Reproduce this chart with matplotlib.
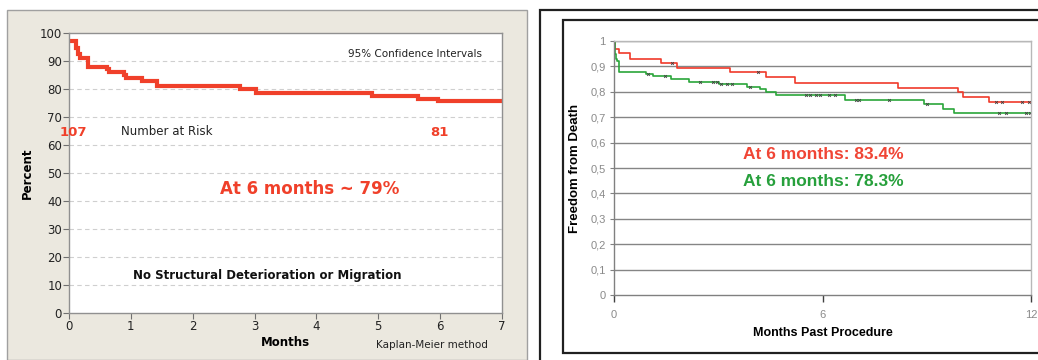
import matplotlib
matplotlib.use("Agg")
import matplotlib.pyplot as plt
from matplotlib.patches import Rectangle
from matplotlib.ticker import FuncFormatter

# ============================
# Data
# ============================
# left panel: Kaplan-Meier, no structural deterioration or migration
left_months = [0, 0.12, 0.14, 0.17, 0.30, 0.61, 0.64, 0.89, 0.92, 1.18, 1.42, 2.76, 3.03, 4.90, 5.65, 5.96, 7.0]
left_percent = [97.3, 94.5, 92.5, 91.0, 88.0, 87.0, 86.0, 85.0, 84.0, 83.0, 81.2, 80.1, 78.6, 77.5, 76.5, 75.8, 75.8]
left_yticks = list(range(0, 101, 10))
left_xticks = list(range(0, 8))
risk_start, risk_end = "107", "81"

# right panel: freedom from death, two groups
red_months = [0, 0.04, 0.15, 0.46, 1.34, 1.82, 3.35, 4.38, 5.20, 8.16, 9.89, 10.03, 10.80, 12.0]
red_surv = [1.0, 0.967, 0.951, 0.929, 0.912, 0.892, 0.877, 0.857, 0.836, 0.816, 0.80, 0.778, 0.761, 0.761]
green_months = [0, 0.02, 0.05, 0.10, 0.15, 0.92, 1.13, 1.64, 2.16, 3.03, 3.84, 4.19, 4.37, 4.67, 6.66, 8.93, 9.46, 9.79, 12.0]
green_surv = [1.0, 0.95, 0.93, 0.92, 0.879, 0.872, 0.861, 0.850, 0.840, 0.830, 0.818, 0.810, 0.800, 0.786, 0.769, 0.751, 0.734, 0.715, 0.715]
red_censor = [1.66, 4.14, 10.99, 11.17, 11.75, 11.95]
green_censor = [0.98, 1.46, 2.47, 2.84, 2.95, 3.09, 3.25, 3.40, 3.90, 5.53, 5.65, 5.80, 5.92, 6.20, 6.35, 6.97, 7.06, 7.92, 9.02, 11.08, 11.27, 11.85, 11.97]
right_yticks = [i / 10 for i in range(0, 11)]
right_xticks = [0, 6, 12]

W, H = 1038, 360


def box(x0, y0, x1, y1):
    # pixel box (top-left origin) -> figure fraction rect
    return [x0 / W, (H - y1) / H, (x1 - x0) / W, (y1 - y0) / H]


def step_value(t, months, surv):
    val = surv[0]
    for m, s in zip(months, surv):
        if m <= t:
            val = s
    return val


fig = plt.figure(figsize=(W / 100, H / 100), dpi=100)
fig.patch.set_facecolor("white")

# panel backgrounds
fig.patches.append(Rectangle((7 / W, 0), (527 - 7) / W, (H - 10) / H, transform=fig.transFigure,
                             facecolor="#ebe8df", edgecolor="#a0a0a0", lw=1.0, zorder=-2))
fig.patches.append(Rectangle((540 / W, -0.01), 0.6, (H - 10) / H + 0.01, transform=fig.transFigure,
                             facecolor="white", edgecolor="#202020", lw=1.6, zorder=-2))
fig.patches.append(Rectangle((563 / W, (H - 353) / H), 0.6, (353 - 20) / H, transform=fig.transFigure,
                             facecolor="white", edgecolor="#202020", lw=1.6, zorder=-1))

# ============================
# Left panel
# ============================
ax1 = fig.add_axes(box(69, 33, 502, 313))
ax1.set_facecolor("white")
ax1.step(left_months, left_percent, where="post", color="#f0402a", lw=3.0, solid_joinstyle="miter")
ax1.set_xlim(0, 7)
ax1.set_ylim(0, 100)
ax1.set_xticks(left_xticks)
ax1.set_yticks(left_yticks)
for v in left_yticks[1:-1]:
    ax1.axhline(v, color="#cfcfcf", lw=0.8, ls=(0, (4, 3)), zorder=0)
for s in ax1.spines.values():
    s.set_color("#909090")
    s.set_linewidth(1.0)
ax1.tick_params(length=4, width=0.8, color="#707070", labelsize=8.5, pad=1, labelcolor="#222222")
ax1.set_ylabel("Percent", fontsize=8.5, fontweight="bold", labelpad=4)
ax1.set_xlabel("Months", fontsize=8.5, fontweight="bold", labelpad=2)

ax1.text(0.80, 0.925, "95% Confidence Intervals", transform=ax1.transAxes, ha="center", va="center",
         fontsize=7.5, color="#222222")
ax1.text(0.01, 0.645, risk_start, transform=ax1.transAxes, ha="center", va="center",
         fontsize=9.5, fontweight="bold", color="#f0402a")
ax1.text(0.12, 0.648, "Number at Risk", transform=ax1.transAxes, ha="left", va="center",
         fontsize=8.5, color="#222222")
ax1.text(0.856, 0.645, risk_end, transform=ax1.transAxes, ha="center", va="center",
         fontsize=9.5, fontweight="bold", color="#f0402a")
ax1.text(0.555, 0.444, "At 6 months ~ 79%", transform=ax1.transAxes, ha="center", va="center",
         fontsize=12, fontweight="bold", color="#f0402a")
ax1.text(0.457, 0.135, "No Structural Deterioration or Migration", transform=ax1.transAxes,
         ha="center", va="center", fontsize=8.5, fontweight="bold", color="#111111")
fig.text(432 / W, (H - 345) / H, "Kaplan-Meier method", ha="center", va="center", fontsize=7.5, color="#222222")

# ============================
# Right panel
# ============================
ax2 = fig.add_axes(box(614, 41, 1031, 295))
ax2.set_facecolor("white")
for v in right_yticks[1:]:
    ax2.axhline(v, color="#858585", lw=1.0, zorder=0)
ax2.step(red_months, red_surv, where="post", color="#f03a2a", lw=1.2)
ax2.step(green_months, green_surv, where="post", color="#2aa53a", lw=1.2)
ax2.plot(red_censor, [step_value(t, red_months, red_surv) for t in red_censor], ls="none",
         marker="x", ms=2.0, mew=0.6, color="#404040")
ax2.plot(green_censor, [step_value(t, green_months, green_surv) for t in green_censor], ls="none",
         marker="x", ms=2.0, mew=0.6, color="#404040")
ax2.set_xlim(0, 12)
ax2.set_ylim(0, 1)
ax2.set_xticks(right_xticks)
ax2.set_yticks(right_yticks)
ax2.yaxis.set_major_formatter(FuncFormatter(lambda v, p: "0" if v == 0 else ("1" if v == 1 else f"{v:.1f}".replace(".", ","))))
ax2.spines["left"].set_color("#808080")
ax2.spines["bottom"].set_color("#808080")
ax2.spines["top"].set_color("#b8b8b8")
ax2.spines["right"].set_color("#b8b8b8")
for s in ax2.spines.values():
    s.set_linewidth(1.0)
ax2.tick_params(axis="y", length=3, width=0.8, color="#808080", labelsize=8, labelcolor="#8a8a8a", pad=3)
ax2.tick_params(axis="x", length=5, width=1.0, color="#404040", labelsize=8, labelcolor="#8a8a8a", pad=6)
for lab in ax2.get_xticklabels() + ax2.get_yticklabels():
    lab.set_family("Liberation Sans")
ax2.set_ylabel("Freedom from Death", fontsize=9.5, fontweight="bold", family="Liberation Sans", labelpad=7)
ax2.set_xlabel("Months Past Procedure", fontsize=9, fontweight="bold", family="Liberation Sans", labelpad=5)
ax2.text(0.502, 0.555, "At 6 months: 83.4%", transform=ax2.transAxes, ha="center", va="center",
         fontsize=12.5, fontweight="bold", family="Liberation Sans", color="#f04535")
ax2.text(0.502, 0.445, "At 6 months: 78.3%", transform=ax2.transAxes, ha="center", va="center",
         fontsize=12.5, fontweight="bold", family="Liberation Sans", color="#27a03c")

fig.savefig("out.png", dpi=100)
